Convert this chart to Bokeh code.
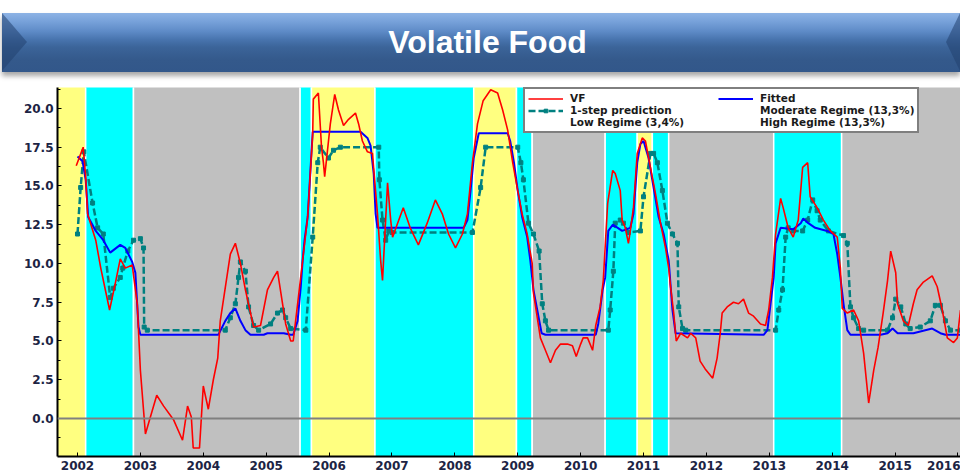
import numpy as np
from bokeh.plotting import figure
from bokeh.layouts import column
from bokeh.models import (FixedTicker, SingleIntervalTicker, PrintfTickFormatter, Span,
                          Legend, LegendItem, Range1d, Div)
from bokeh.embed import file_html
from bokeh.resources import INLINE

# ---------------- data ----------------
title_text = "Volatile Food"
year_ticks = [2002, 2003, 2004, 2005, 2006, 2007, 2008, 2009, 2010, 2011, 2012, 2013, 2014, 2015, 2016]

regime_start = [2001.68, 2002.13, 2002.89, 2005.54, 2005.72, 2006.73, 2008.30, 2008.98,
                2009.23, 2010.39, 2010.90, 2011.14, 2011.40, 2013.07, 2014.15]
regime_end = [2002.13, 2002.89, 2005.54, 2005.72, 2006.73, 2008.30, 2008.98, 2009.23,
              2010.39, 2010.90, 2011.14, 2011.40, 2013.07, 2014.15, 2016.10]
regime_kind = ["High", "Moderate", "Low", "Moderate", "High", "Moderate", "High", "Moderate",
               "Low", "Moderate", "High", "Moderate", "Low", "Moderate", "Low"]

legend_labels = ["VF", "1-step prediction", "Low Regime (3,4%)",
                 "Fitted", "Moderate Regime (13,3%)", "High Regime (13,3%)"]

vf_x = [2001.98, 2002.09, 2002.13, 2002.16, 2002.29, 2002.37, 2002.51, 2002.60, 2002.68, 2002.76,
        2002.87, 2002.95, 2003.00, 2003.08, 2003.13, 2003.26, 2003.37, 2003.53, 2003.67, 2003.75,
        2003.81, 2003.84, 2003.94, 2004.00, 2004.08, 2004.16, 2004.23, 2004.27, 2004.43, 2004.51,
        2004.59, 2004.67, 2004.80, 2004.91, 2005.02, 2005.12, 2005.18, 2005.31, 2005.39, 2005.43,
        2005.50, 2005.58, 2005.66, 2005.74, 2005.75, 2005.83, 2005.88, 2005.91, 2005.93, 2005.97,
        2006.02, 2006.09, 2006.15, 2006.23, 2006.31, 2006.42, 2006.47, 2006.53, 2006.61, 2006.69,
        2006.72, 2006.77, 2006.82, 2006.85, 2006.93, 2006.98, 2007.01, 2007.09, 2007.18, 2007.29,
        2007.42, 2007.56, 2007.69, 2007.80, 2007.90, 2008.01, 2008.12, 2008.20, 2008.28, 2008.36,
        2008.45, 2008.57, 2008.68, 2008.76, 2008.84, 2008.92, 2009.00, 2009.07, 2009.15, 2009.23,
        2009.25, 2009.36, 2009.44, 2009.52, 2009.60, 2009.68, 2009.79, 2009.87, 2009.93, 2010.00,
        2010.04, 2010.11, 2010.19, 2010.24, 2010.31, 2010.36, 2010.43, 2010.51, 2010.55, 2010.63,
        2010.66, 2010.71, 2010.76, 2010.79, 2010.84, 2010.90, 2010.98, 2011.03, 2011.11, 2011.19,
        2011.27, 2011.35, 2011.40, 2011.43, 2011.48, 2011.52, 2011.59, 2011.70, 2011.75, 2011.83,
        2011.90, 2011.98, 2012.10, 2012.17, 2012.22, 2012.25, 2012.33, 2012.43, 2012.51, 2012.59,
        2012.67, 2012.75, 2012.86, 2012.94, 2012.99, 2013.05, 2013.10, 2013.18, 2013.22, 2013.30,
        2013.38, 2013.46, 2013.53, 2013.61, 2013.65, 2013.76, 2013.86, 2013.97, 2014.08, 2014.13,
        2014.16, 2014.24, 2014.34, 2014.42, 2014.50, 2014.58, 2014.66, 2014.73, 2014.81, 2014.88,
        2014.93, 2015.01, 2015.04, 2015.13, 2015.21, 2015.29, 2015.35, 2015.45, 2015.59, 2015.67,
        2015.75, 2015.83, 2015.93, 2015.99, 2016.04]
vf_y = [16.3, 17.5, 15.6, 13.2, 11.5, 9.7, 7.0, 8.7, 10.3, 9.7,
        9.9, 7.4, 3.1, -1.0, -0.3, 1.5, 0.8, -0.1, -1.4, 0.8,
        0.1, -1.9, -1.9, 2.1, 0.6, 2.5, 3.9, 6.3, 10.6, 11.3,
        10.0, 8.3, 5.9, 6.0, 8.3, 9.1, 9.5, 6.1, 5.0, 5.0,
        7.4, 10.2, 13.0, 18.4, 20.6, 21.0, 17.5, 16.5, 15.6, 17.1,
        19.0, 20.9, 19.9, 18.9, 19.3, 19.7, 19.0, 17.9, 17.2, 17.1,
        15.6, 13.2, 10.2, 8.9, 15.2, 12.8, 11.7, 12.6, 13.6, 12.3,
        11.2, 12.6, 14.1, 13.2, 11.9, 11.0, 11.9, 13.2, 16.5, 19.0,
        20.5, 21.2, 21.0, 19.9, 18.6, 16.5, 14.7, 13.2, 11.9, 10.0,
        8.1, 5.2, 4.4, 3.6, 4.4, 4.8, 4.8, 4.7, 4.0, 4.8,
        5.2, 5.2, 4.4, 6.0, 7.2, 8.9, 13.9, 16.0, 15.8, 14.7,
        12.8, 12.3, 11.3, 12.1, 13.6, 17.1, 18.1, 17.9, 16.2, 14.5,
        12.6, 11.0, 9.7, 8.5, 6.8, 5.0, 5.5, 5.2, 5.5, 5.2,
        3.7, 3.2, 2.6, 3.9, 5.5, 6.8, 7.2, 7.5, 7.4, 7.7,
        6.8, 6.6, 6.1, 6.0, 7.0, 9.1, 11.9, 14.2, 13.6, 12.3,
        11.7, 12.8, 16.2, 16.5, 14.3, 13.6, 12.8, 12.1, 11.7, 9.7,
        7.1, 6.8, 7.0, 6.3, 4.2, 1.0, 3.1, 4.6, 6.8, 8.9,
        10.8, 9.4, 7.4, 6.3, 6.0, 7.4, 8.3, 8.8, 9.2, 8.5,
        7.0, 5.2, 4.9, 5.2, 7.0]

fit_x = [2002.00, 2002.08, 2002.13, 2002.17, 2002.29, 2002.41, 2002.52, 2002.68, 2002.76, 2002.87,
         2002.92, 2002.97, 2003.00, 2004.24, 2004.35, 2004.43, 2004.51, 2004.59, 2004.67, 2004.75,
         2004.96, 2005.02, 2005.28, 2005.39, 2005.43, 2005.50, 2005.55, 2005.58, 2005.61, 2005.66,
         2005.74, 2006.50, 2006.61, 2006.66, 2006.71, 2006.74, 2006.77, 2008.14, 2008.20, 2008.25,
         2008.30, 2008.38, 2008.84, 2008.88, 2008.94, 2009.00, 2009.07, 2009.15, 2009.20, 2009.25,
         2009.31, 2009.38, 2009.44, 2010.24, 2010.28, 2010.35, 2010.39, 2010.44, 2010.51, 2010.59,
         2010.66, 2010.79, 2010.84, 2010.90, 2010.95, 2011.00, 2011.08, 2011.16, 2011.24, 2011.32,
         2011.40, 2011.46, 2011.51, 2012.91, 2012.97, 2013.02, 2013.07, 2013.10, 2013.18, 2013.38,
         2013.50, 2013.54, 2013.62, 2013.73, 2013.92, 2014.02, 2014.08, 2014.13, 2014.18, 2014.24,
         2014.29, 2014.77, 2014.88, 2014.96, 2015.04, 2015.29, 2015.59, 2015.72, 2015.80, 2016.04]
fit_y = [16.9, 16.6, 15.4, 13.0, 12.1, 11.5, 10.7, 11.2, 11.0, 10.1,
         9.4, 5.9, 5.4, 5.4, 6.3, 6.8, 7.1, 6.3, 5.7, 5.4,
         5.4, 5.5, 5.5, 5.4, 5.4, 6.3, 8.5, 10.2, 11.5, 13.0,
         18.5, 18.5, 18.1, 17.6, 15.8, 13.2, 12.3, 12.3, 12.8, 14.7,
         16.8, 18.4, 18.4, 17.9, 16.5, 14.7, 13.0, 11.7, 10.2, 8.3,
         7.0, 5.5, 5.4, 5.4, 6.1, 8.3, 9.1, 12.1, 12.5, 12.3,
         12.1, 12.3, 13.2, 16.5, 17.7, 17.9, 16.8, 14.9, 13.0, 11.9,
         10.2, 7.0, 5.5, 5.4, 5.7, 7.4, 9.1, 11.3, 12.3, 12.2,
         12.6, 12.9, 12.6, 12.3, 12.1, 11.9, 10.6, 9.1, 7.4, 5.7,
         5.4, 5.4, 5.5, 5.8, 5.5, 5.5, 5.8, 5.5, 5.4, 5.4]

pred_x = [2002.00, 2002.05, 2002.10, 2002.24, 2002.32, 2002.41, 2002.52, 2002.57, 2002.68, 2002.72,
          2002.80, 2002.89, 2003.00, 2003.05, 2003.06, 2003.11, 2004.35, 2004.43, 2004.51, 2004.56,
          2004.59, 2004.67, 2004.72, 2004.80, 2004.88, 2005.07, 2005.18, 2005.26, 2005.31, 2005.39,
          2005.63, 2005.74, 2005.82, 2005.86, 2005.99, 2006.07, 2006.18, 2006.79, 2006.80, 2006.85,
          2006.90, 2006.95, 2007.00, 2008.28, 2008.41, 2008.49, 2009.00, 2009.05, 2009.09, 2009.17,
          2009.25, 2009.34, 2009.39, 2009.44, 2009.49, 2010.44, 2010.47, 2010.52, 2010.55, 2010.63,
          2010.68, 2010.76, 2010.95, 2011.00, 2011.11, 2011.16, 2011.22, 2011.30, 2011.38, 2011.46,
          2011.54, 2011.56, 2011.62, 2011.67, 2013.10, 2013.15, 2013.21, 2013.26, 2013.30, 2013.38,
          2013.53, 2013.61, 2013.69, 2013.76, 2013.81, 2013.94, 2014.18, 2014.24, 2014.29, 2014.34,
          2014.42, 2014.50, 2014.88, 2014.96, 2015.01, 2015.09, 2015.17, 2015.24, 2015.40, 2015.56,
          2015.64, 2015.72, 2015.80, 2015.88, 2016.04]
pred_y = [11.9, 14.9, 17.2, 13.9, 12.3, 11.9, 7.8, 8.4, 9.1, 9.7,
          10.8, 11.5, 11.6, 11.0, 5.9, 5.7, 5.7, 6.5, 7.4, 9.1,
          10.1, 9.5, 7.2, 6.0, 5.7, 6.1, 6.8, 7.0, 6.5, 5.8,
          5.7, 11.7, 16.5, 17.5, 16.8, 17.3, 17.5, 17.5, 15.4, 12.8,
          11.5, 12.1, 12.0, 12.0, 14.9, 17.5, 17.5, 16.5, 15.4, 12.6,
          11.9, 10.8, 7.4, 6.3, 5.7, 5.7, 7.0, 9.5, 12.6, 12.8,
          12.6, 12.0, 12.1, 14.3, 17.1, 17.1, 16.5, 14.7, 12.6, 11.9,
          11.3, 7.2, 5.8, 5.7, 5.7, 7.0, 8.3, 11.7, 12.3, 12.1,
          12.1, 12.8, 14.1, 13.4, 12.8, 12.1, 11.8, 11.3, 7.2, 6.5,
          5.8, 5.7, 5.7, 6.5, 7.7, 7.2, 6.1, 5.8, 5.9, 6.3,
          7.3, 7.3, 6.3, 5.7, 5.7]

# ---------------- styling ----------------
W = 960
BH = 83
regime_color = {"Low": "#c0c0c0", "Moderate": "#00ffff", "High": "#ffff80"}
tick_font = "DejaVu Sans"
tick_color = "#1c2444"

# ---------------- banner (HTML title bar) ----------------
banner_html = (
    '<div style="position:relative;width:%dpx;height:%dpx;background:#ffffff;overflow:hidden;">'
    '<div style="position:absolute;left:2px;top:13px;width:%dpx;height:59px;'
    'background:linear-gradient(to bottom,#8db3e5 0%%,#78a2da 14%%,#5e8bc7 31%%,#4874ae 45%%,'
    '#3b6499 58%%,#34598b 80%%,#32578a 100%%);box-shadow:0 4px 5px rgba(0,0,0,0.35);"></div>'
    '<div style="position:absolute;left:2px;top:13px;width:0;height:0;'
    'border-top:29.5px solid transparent;border-bottom:29.5px solid transparent;'
    'border-left:25px solid rgba(34,66,112,0.55);"></div>'
    '<div style="position:absolute;right:0px;top:13px;width:0;height:0;'
    'border-top:29.5px solid transparent;border-bottom:29.5px solid transparent;'
    'border-right:14px solid rgba(34,66,112,0.55);"></div>'
    '<div style="position:absolute;left:15px;top:13px;width:945px;height:59px;line-height:59px;'
    'text-align:center;color:#ffffff;font-family:\'Liberation Sans\',Arial,sans-serif;'
    'font-weight:bold;font-size:32px;">%s</div>'
    '</div>' % (W, BH, W - 2, title_text)
)
banner = Div(text=banner_html, width=W, height=BH, margin=0)

# ---------------- chart ----------------
p = figure(width=W, height=475 - BH, output_backend="svg", toolbar_location=None,
           x_range=Range1d(2001.682, 2016.04), y_range=Range1d(-2.45, 21.35),
           min_border_left=57, min_border_right=0, min_border_top=4, min_border_bottom=19)
p.grid.visible = False
p.outline_line_color = None
p.background_fill_color = "white"
p.border_fill_color = "white"

p.quad(left=regime_start, right=regime_end, bottom=-30, top=40,
       fill_color=[regime_color[k] for k in regime_kind], line_color="white", line_width=1.5)

p.add_layout(Span(location=0, dimension="width", line_color="#808080", line_width=2))

r_pred = p.line(pred_x, pred_y, color="#008080", line_width=2.5, line_dash="7 3")
r_pred_m = p.scatter(pred_x, pred_y, marker="square", size=4, color="#008080")
r_fit = p.line(fit_x, fit_y, color="#0000ff", line_width=2)
r_vf = p.line(vf_x, vf_y, color="#ff0000", line_width=1.6)

r_low = p.line(x=[], y=[], color="#c8c8c8", line_width=2.5)
r_mod = p.line(x=[], y=[], color="#00ffff", line_width=2.5)
r_high = p.line(x=[], y=[], color="#ffff80", line_width=2.5)

p.xaxis.ticker = FixedTicker(ticks=year_ticks, minor_ticks=[])
p.xaxis.formatter = PrintfTickFormatter(format="%d")
p.yaxis.ticker = SingleIntervalTicker(interval=2.5, num_minor_ticks=2)
p.yaxis.formatter = PrintfTickFormatter(format="%.1f")
for ax in (p.xaxis[0], p.yaxis[0]):
    ax.axis_line_color = "black"
    ax.axis_line_width = 2
    ax.major_tick_in = 4
    ax.major_tick_out = 0
    ax.minor_tick_in = 3
    ax.minor_tick_out = 0
    ax.major_tick_line_color = "black"
    ax.major_label_text_font = tick_font
    ax.major_label_text_font_style = "bold"
    ax.major_label_text_font_size = "12px"
    ax.major_label_text_color = tick_color
    ax.major_label_standoff = 4
p.xaxis.minor_tick_line_color = None

items = [LegendItem(label=legend_labels[0], renderers=[r_vf]),
         LegendItem(label=legend_labels[1], renderers=[r_pred, r_pred_m]),
         LegendItem(label=legend_labels[2], renderers=[r_low]),
         LegendItem(label=legend_labels[3], renderers=[r_fit]),
         LegendItem(label=legend_labels[4], renderers=[r_mod]),
         LegendItem(label=legend_labels[5], renderers=[r_high])]
legend = Legend(items=items, location=(466, 323), orientation="vertical", nrows=3,
                border_line_color="black", border_line_width=2,
                background_fill_color="white", background_fill_alpha=1.0,
                label_text_font="DejaVu Sans", label_text_font_style="bold",
                label_text_font_size="10.5px", label_text_color="#1a1a1a",
                glyph_width=35, glyph_height=9, label_height=9, label_standoff=7,
                label_width=148, spacing=0, padding=3, margin=0)
p.add_layout(legend)

layout = column(banner, p, spacing=0)
open("out.html", "w").write(file_html(layout, INLINE))
